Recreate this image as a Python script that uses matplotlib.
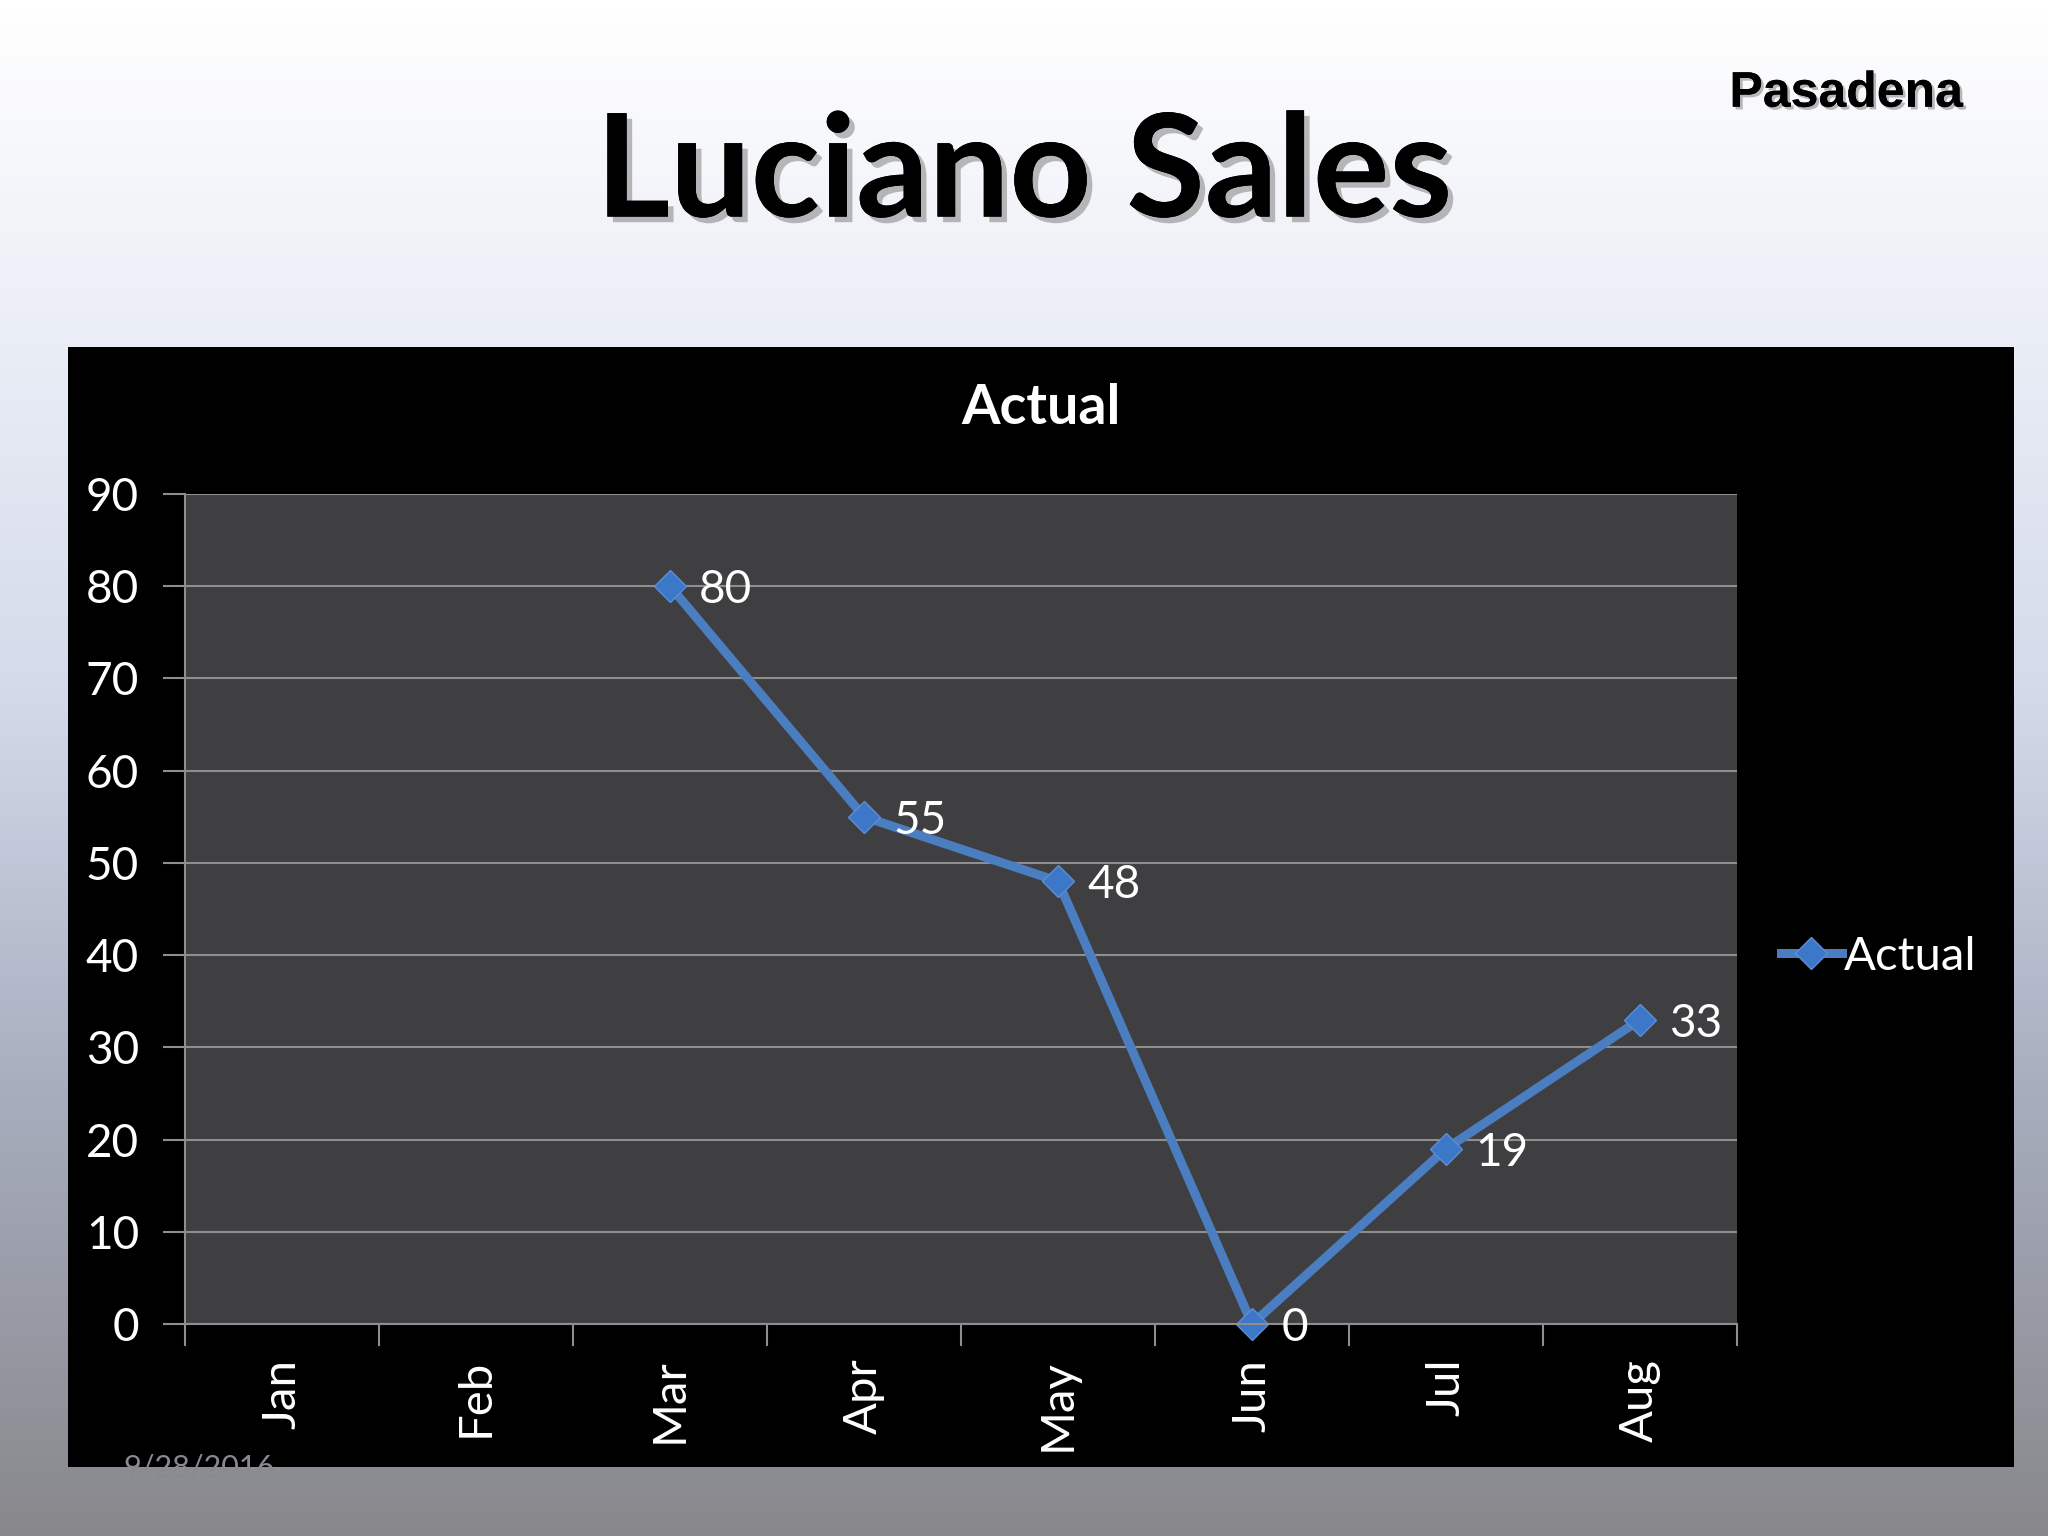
import numpy as np
import matplotlib
matplotlib.use('Agg')
import matplotlib.pyplot as plt
import matplotlib.patheffects as pe
from matplotlib.colors import LinearSegmentedColormap

months = ['Jan', 'Feb', 'Mar', 'Apr', 'May', 'Jun', 'Jul', 'Aug']
actual = [np.nan, np.nan, 80, 55, 48, 0, 19, 33]
yticks = [0, 10, 20, 30, 40, 50, 60, 70, 80, 90]

fig = plt.figure(figsize=(20.48, 15.36), dpi=100)

# slide background gradient
bg = fig.add_axes([0, 0, 1, 1])
bg_cmap = LinearSegmentedColormap.from_list('slide', [
    (0.0, '#ffffff'), (0.2, '#eceff7'), (0.45, '#d4daea'),
    (0.7, '#a9afc0'), (1.0, '#88888c')])
grad = np.linspace(0, 1, 512).reshape(-1, 1)
bg.imshow(grad, aspect='auto', cmap=bg_cmap, extent=[0, 1, 0, 1], origin='upper')
bg.set_axis_off()

shadow = [pe.withSimplePatchShadow(offset=(4, -4), shadow_rgbFace='#777777', alpha=0.5), pe.Normal()]
fig.text(0.5, 0.886, 'Luciano Sales', ha='center', va='center', fontsize=103,
         fontweight='bold', family='Lato', color='black', path_effects=shadow)
fig.text(0.9015, 0.939, 'Pasadena', ha='center', va='center', fontsize=36,
         fontweight='bold', family='Liberation Sans', color='black',
         path_effects=[pe.withSimplePatchShadow(offset=(2, -2), shadow_rgbFace='#777777', alpha=0.5), pe.Normal()])

# black chart panel
panel = fig.add_axes([68 / 2048, 1 - 1467 / 1536, (2014 - 68) / 2048, (1467 - 347) / 1536])
panel.set_facecolor('black')
panel.set_xticks([])
panel.set_yticks([])
for s in panel.spines.values():
    s.set_visible(False)

fig.text(1041 / 2048, 1 - 408 / 1536, 'Actual', ha='center', va='center', fontsize=40,
         fontweight='bold', family='Lato', color='white')

ax = fig.add_axes([185 / 2048, 1 - 1324 / 1536, (1737 - 185) / 2048, (1324 - 494) / 1536])
ax.set_facecolor('#3f3e40')
x = np.arange(len(months))
ax.set_xlim(-0.5, len(months) - 0.5)
ax.set_ylim(0, 90)
ax.set_yticks(yticks)
ax.yaxis.grid(True, color='#8e8e8e', linewidth=1.5)
ax.set_axisbelow(True)
for s in ['top', 'right']:
    ax.spines[s].set_visible(False)
ax.spines['left'].set_color('#8e8e8e')
ax.spines['bottom'].set_color('#8e8e8e')
ax.spines['left'].set_linewidth(1.5)
ax.spines['bottom'].set_linewidth(1.5)

ax.set_xticks(np.arange(-0.5, len(months)), minor=False)
ax.set_xticklabels([])
ax.set_xticks(x, minor=True)
ax.set_xticklabels(months, minor=True, rotation=90, fontsize=34, family='Lato', color='white')
ax.tick_params(axis='x', which='major', length=16, width=1.5, color='#8e8e8e', direction='out')
ax.tick_params(axis='x', which='minor', length=0, pad=25)
ax.tick_params(axis='y', length=16, width=1.5, color='#8e8e8e', direction='out',
               labelsize=33, labelcolor='white', pad=17)
for lab in ax.get_yticklabels():
    lab.set_family('Lato')

line, = ax.plot(x, actual, color='#4a7ec0', linewidth=6.5, marker='D', markersize=16,
                markerfacecolor='#3d77c8', markeredgecolor='#5b8ed6', markeredgewidth=1,
                label='Actual', clip_on=False)
for xi, v in zip(x, actual):
    if not np.isnan(v):
        ax.annotate(f'{v:g}', (xi, v), xytext=(21, 0), textcoords='offset points',
                    ha='left', va='center_baseline', fontsize=33, family='Lato', color='white')

leg = fig.legend(handles=[line], loc='center left', bbox_to_anchor=(1738 / 2048, 1 - 957 / 1536),
                 frameon=False, handlelength=1.3, handletextpad=0.05,
                 prop={'family': 'Lato', 'size': 34})
for t in leg.get_texts():
    t.set_color('white')

fig.text(123 / 2048, 1 - 1467 / 1536, '9/28/2016', ha='left', va='center', fontsize=22,
         family='Lato', color='#8a8a8e')

fig.savefig('out.png', dpi=100)
